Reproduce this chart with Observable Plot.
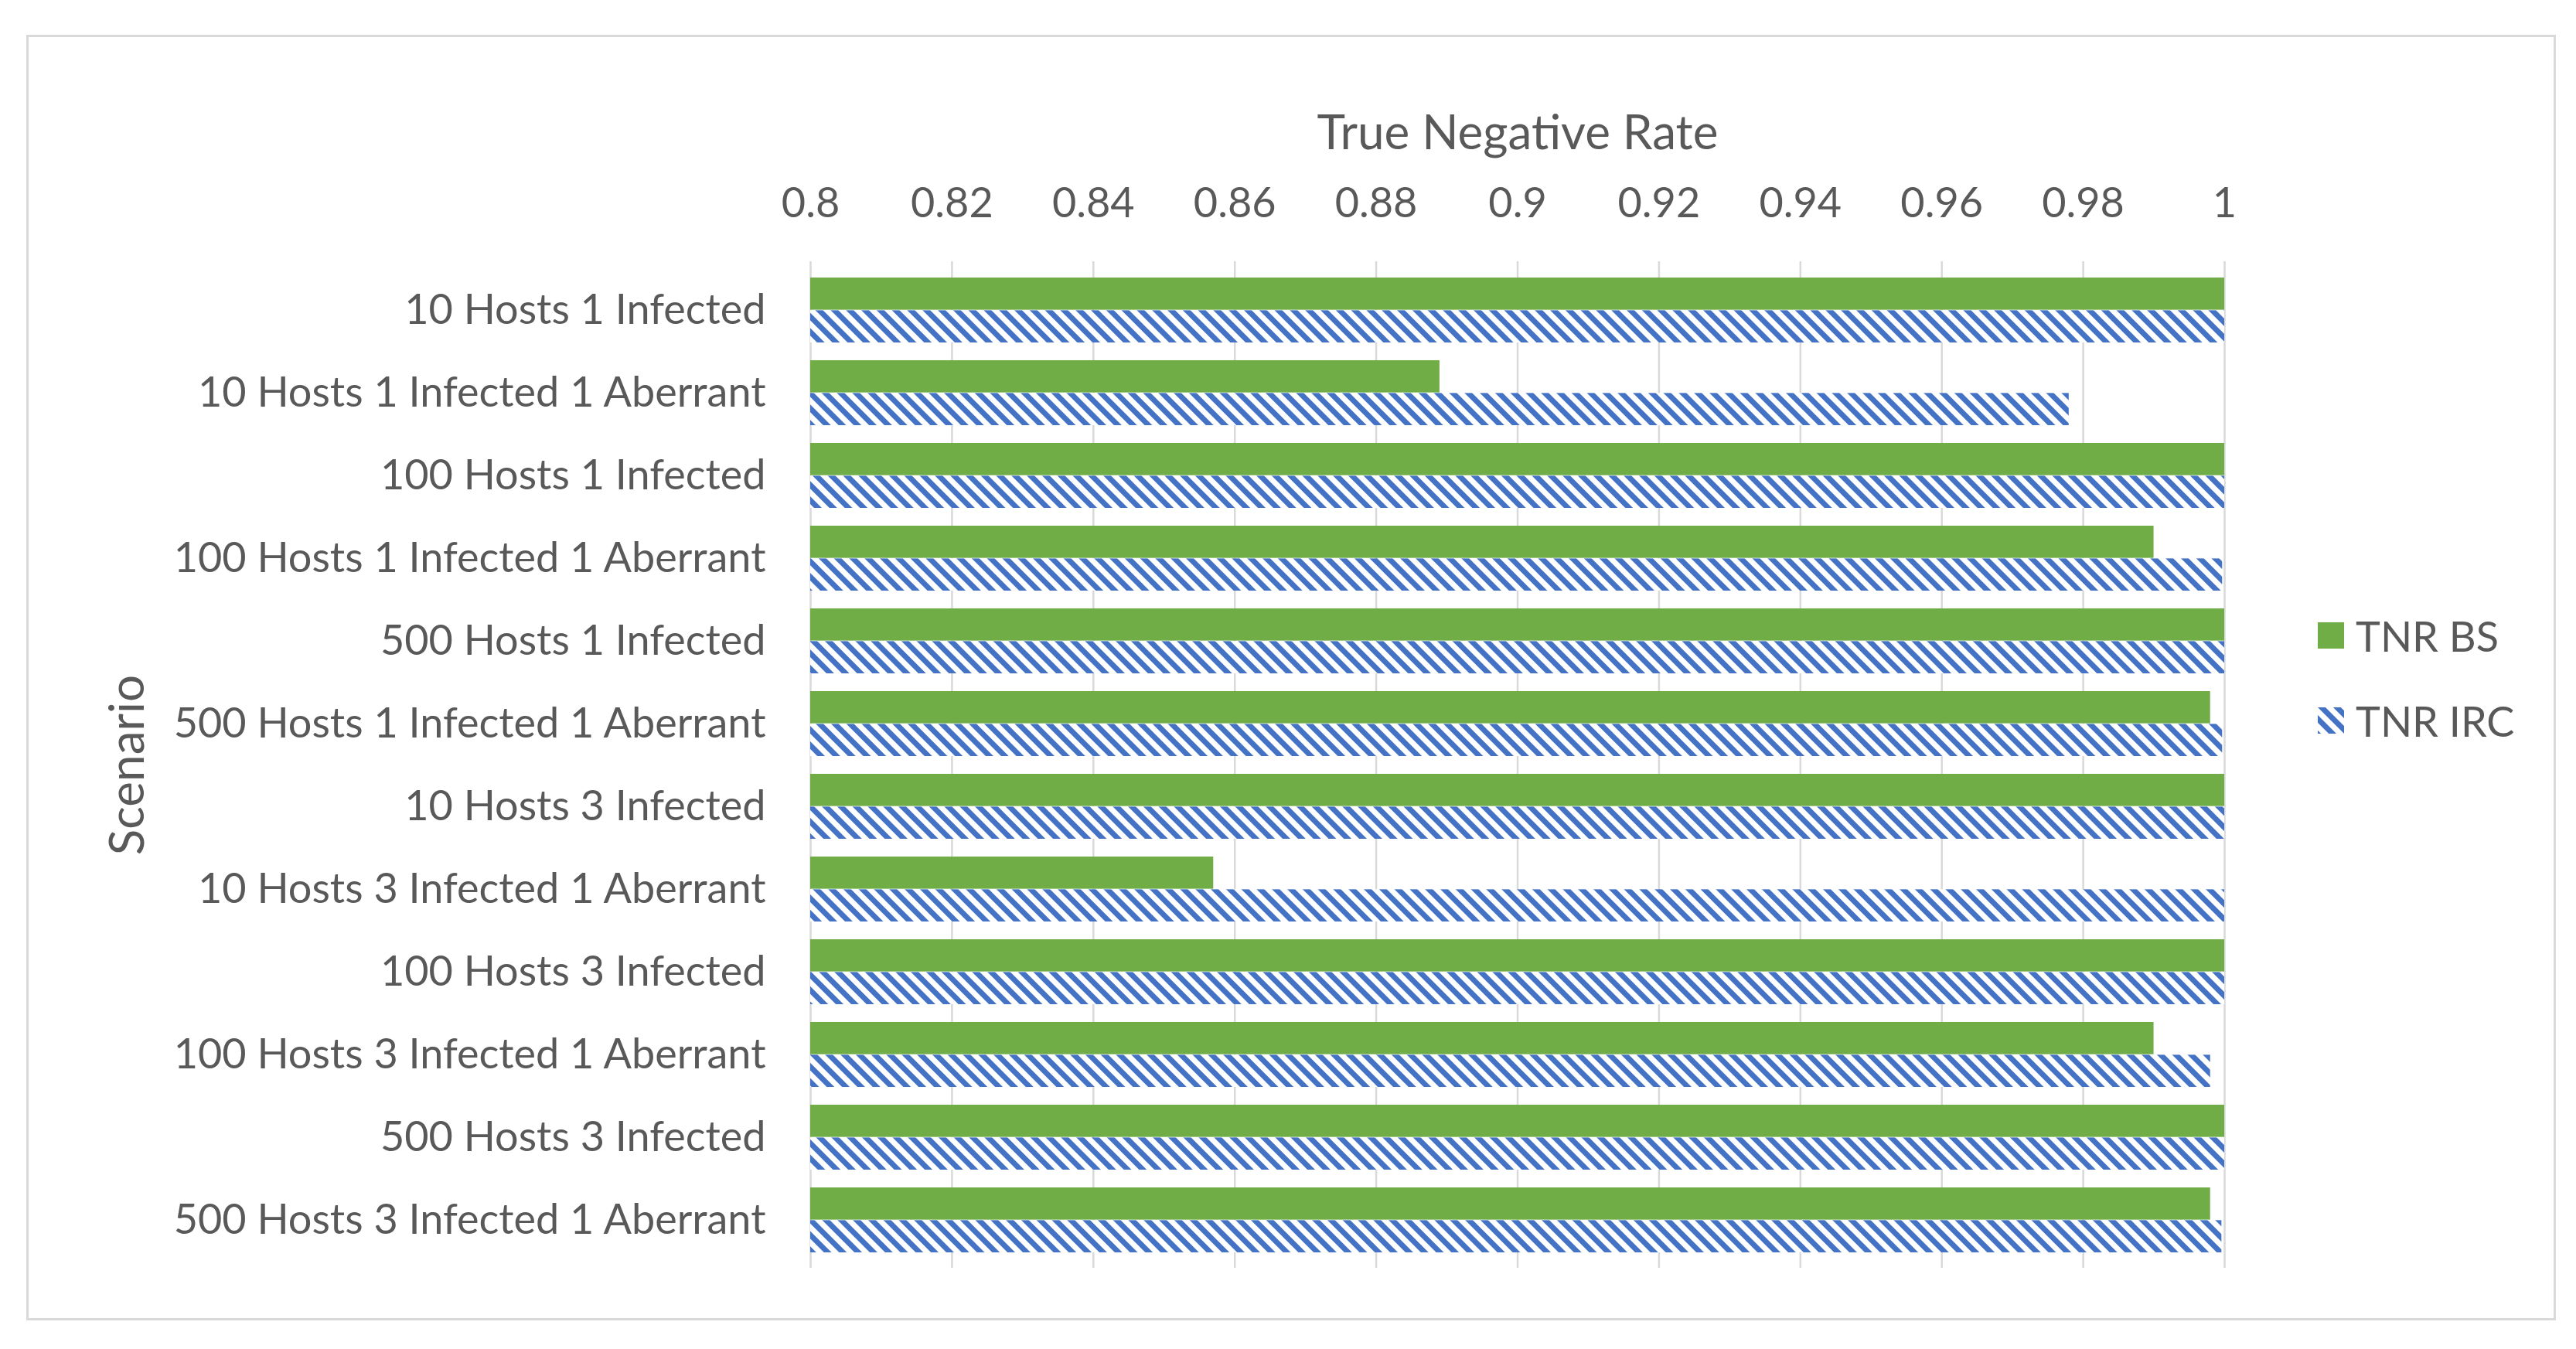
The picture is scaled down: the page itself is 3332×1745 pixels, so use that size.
<!DOCTYPE html>
<html>
<head>
<meta charset="utf-8">
<script src="https://cdn.jsdelivr.net/npm/d3@7"></script>
<script src="https://cdn.jsdelivr.net/npm/@observablehq/plot@0.6"></script>
<style>
  html, body { margin: 0; padding: 0; background: #fff; }
  #wrap { position: relative; width: 3332px; height: 1745px; font-family: Lato, sans-serif; color: #595959; overflow: hidden; }
  #frame { position: absolute; left: 34px; top: 45px; width: 3272px; height: 1663px; box-sizing: border-box; border: 3px solid #d9d9d9; }
  #chart { position: absolute; left: 0; top: 0; }
  .legend-item { position: absolute; left: 2998px; height: 60px; display: flex; align-items: center; font-size: 54px; color: #595959; white-space: nowrap; }
  .legend-item svg { margin-right: 15px; }
</style>
</head>
<body>
<div id="wrap">
  <div id="frame"></div>
  <div id="chart"></div>
</div>
<script>
// ---- data ----
const scenarios = [
  "10 Hosts 1 Infected",
  "10 Hosts 1 Infected 1 Aberrant",
  "100 Hosts 1 Infected",
  "100 Hosts 1 Infected 1 Aberrant",
  "500 Hosts 1 Infected",
  "500 Hosts 1 Infected 1 Aberrant",
  "10 Hosts 3 Infected",
  "10 Hosts 3 Infected 1 Aberrant",
  "100 Hosts 3 Infected",
  "100 Hosts 3 Infected 1 Aberrant",
  "500 Hosts 3 Infected",
  "500 Hosts 3 Infected 1 Aberrant"
];
const tnrBS  = [1, 0.889, 1, 0.990,  1, 0.998,  1, 0.857, 1, 0.990, 1, 0.998];
const tnrIRC = [1, 0.978, 1, 0.9997, 1, 0.9997, 1, 1,     1, 0.998, 1, 0.9996];
const seriesNames = ["TNR BS", "TNR IRC"];
const xDomain = [0.8, 1];
const xTicks = [0.8, 0.82, 0.84, 0.86, 0.88, 0.9, 0.92, 0.94, 0.96, 0.98, 1];
const xTickLabels = ["0.8", "0.82", "0.84", "0.86", "0.88", "0.9", "0.92", "0.94", "0.96", "0.98", "1"];
const xTitle = "True Negative Rate";
const yTitle = "Scenario";

// ---- layout ----
const W = 3332, H = 1745;
const mL = 1048, mR = 455, mT = 338, mB = 105;
const pInner = 0.215, pOuter = 0.14;
const step = (H - mT - mB) / (scenarios.length - pInner + 2 * pOuter);
const bw = step * (1 - pInner);

const green = "#70AD47", blue = "#4472C4";

const rows = scenarios.map((s, i) => ({scenario: s, base: xDomain[0], bs: tnrBS[i], irc: tnrIRC[i]}));

const chart = Plot.plot({
  width: W,
  height: H,
  marginLeft: mL,
  marginRight: mR,
  marginTop: mT,
  marginBottom: mB,
  style: {fontFamily: "Lato, sans-serif", fontSize: "54px", color: "#595959", background: "transparent", overflow: "visible"},
  x: {
    domain: xDomain,
    axis: "top",
    ticks: xTicks,
    tickFormat: d => xTickLabels[xTicks.indexOf(d)],
    tickSize: 0,
    tickPadding: 58,
    label: xTitle,
    labelArrow: false,
    labelAnchor: "center",
    labelOffset: 190
  },
  y: {
    domain: scenarios,
    paddingInner: pInner,
    paddingOuter: pOuter,
    tickSize: 0,
    tickPadding: 58,
    label: yTitle,
    labelArrow: false,
    labelAnchor: "center",
    labelOffset: 907
  },
  marks: [
    Plot.ruleX(xTicks, {stroke: "#d9d9d9", strokeWidth: 2.5}),
    Plot.barX(rows, {y: "scenario", x1: "base", x2: "bs", fill: green, insetBottom: bw / 2}),
    Plot.barX(rows, {y: "scenario", x1: "base", x2: "irc", fill: "url(#ircPattern)", insetTop: bw / 2})
  ]
});

// larger axis titles
chart.querySelectorAll('[aria-label="x-axis label"], [aria-label="y-axis label"]').forEach(g => {
  g.setAttribute("font-size", "62");
  g.style.fontSize = "62px";
});

// stripe pattern for the TNR IRC series
function addPattern(svgEl, id) {
  const defs = d3.select(svgEl).insert("defs", ":first-child");
  const pat = defs.append("pattern")
    .attr("id", id)
    .attr("patternUnits", "userSpaceOnUse")
    .attr("width", 14)
    .attr("height", 14)
    .attr("patternTransform", "rotate(-45)");
  pat.append("rect").attr("width", 14).attr("height", 14).attr("fill", "#fff");
  pat.append("rect").attr("width", 7).attr("height", 14).attr("fill", blue);
}
addPattern(chart, "ircPattern");
document.getElementById("chart").appendChild(chart);

// legend
const wrap = document.getElementById("wrap");
const legendTops = [792, 902];
seriesNames.forEach((name, i) => {
  const item = document.createElement("div");
  item.className = "legend-item";
  item.style.top = legendTops[i] + "px";
  const sw = d3.create("svg").attr("width", 34).attr("height", 34);
  if (i === 0) {
    sw.append("rect").attr("width", 34).attr("height", 34).attr("fill", green);
  } else {
    addPattern(sw.node(), "ircLegendPattern");
    sw.append("rect").attr("width", 34).attr("height", 34).attr("fill", "url(#ircLegendPattern)");
  }
  item.appendChild(sw.node());
  const t = document.createElement("span");
  t.textContent = name;
  item.appendChild(t);
  wrap.appendChild(item);
});
</script>
</body>
</html>
